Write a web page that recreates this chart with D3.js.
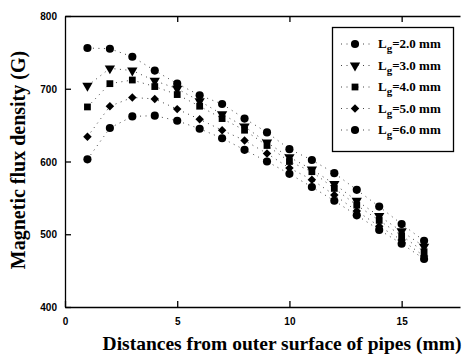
<!DOCTYPE html>
<html>
<head>
<meta charset="utf-8">
<script src="https://cdn.jsdelivr.net/npm/d3@7"></script>
<style>
  body { margin: 0; background: #fff; }
  svg { display: block; }
</style>
</head>
<body>
<svg id="chart" width="465" height="362"></svg>
<script>
// distances from outer surface (mm)
const distances = [1, 2, 3, 4, 5, 6, 7, 8, 9, 10, 11, 12, 13, 14, 15, 16];
// magnetic flux density (G) for each gap length
const lg20 = [756, 755, 744, 725, 707, 691, 679, 659, 640, 617, 602, 584, 561, 538, 514, 491];
const lg30 = [704, 728, 725, 711, 700, 683, 665, 648, 626, 606, 589, 569, 546, 525, 504, 483];
const lg40 = [675, 707, 712, 703, 692, 676, 659, 643, 622, 600, 586, 563, 540, 519, 498, 476];
const lg50 = [634, 676, 688, 686, 672, 658, 643, 629, 611, 591, 575, 554, 532, 511, 492, 470];
const lg60 = [603, 646, 662, 663, 656, 645, 632, 616, 600, 583, 565, 546, 526, 506, 487, 466];
const seriesLabels = ['2.0 mm', '3.0 mm', '4.0 mm', '5.0 mm', '6.0 mm'];
const seriesShapes = ['circle', 'triangle', 'square', 'diamond', 'circle'];
const xTicks = [0, 5, 10, 15];
const yTicks = [400, 500, 600, 700, 800];

const allSeries = [lg20, lg30, lg40, lg50, lg60];

const svg = d3.select('#chart');
const margin = { left: 65, top: 16, right: 5, bottom: 55 };
const W = 465, H = 362;

const x = d3.scaleLinear().domain([0, 17.6]).range([margin.left, W - margin.right]);
const y = d3.scaleLinear().domain([400, 800]).range([H - margin.bottom, margin.top]);

const symbolFor = (shape) => {
  if (shape === 'triangle') return d3.symbol().type(d3.symbolTriangle).size(46);
  if (shape === 'square') return d3.symbol().type(d3.symbolSquare).size(46);
  if (shape === 'diamond') return d3.symbol().type(d3.symbolSquare).size(36);
  return d3.symbol().type(d3.symbolCircle).size(52);
};
const rotFor = (shape) => {
  if (shape === 'triangle') return ' rotate(180)';
  if (shape === 'diamond') return ' rotate(45)';
  return '';
};

// axes
const tickFont = 'bold 10px "Liberation Sans", Arial, sans-serif';

const bottomAxis = svg.append('g')
  .attr('transform', 'translate(0,' + y(400) + ')')
  .call(d3.axisBottom(x).tickValues(xTicks).tickSize(-6).tickPadding(11).tickSizeOuter(0));
const topAxis = svg.append('g')
  .attr('transform', 'translate(0,' + y(800) + ')')
  .call(d3.axisTop(x).tickValues(xTicks.slice(1)).tickSize(-6).tickFormat('').tickSizeOuter(0));
const leftAxis = svg.append('g')
  .attr('transform', 'translate(' + x(0) + ',0)')
  .call(d3.axisLeft(y).tickValues(yTicks).tickSize(-6).tickPadding(8).tickSizeOuter(0));

[bottomAxis, topAxis, leftAxis].forEach(g => {
  g.select('.domain').attr('stroke', '#000').attr('stroke-width', 1.3);
  g.selectAll('.tick line').attr('stroke', '#000').attr('stroke-width', 1.3);
  g.selectAll('.tick text').style('font', tickFont).attr('fill', '#000');
});
leftAxis.selectAll('.tick text').attr('dy', '0.35em');

// lines
const line = d3.line()
  .x((d, i) => x(distances[i]))
  .y(d => y(d));

allSeries.forEach((vals, s) => {
  svg.append('path')
    .datum(vals)
    .attr('d', line)
    .attr('fill', 'none')
    .attr('stroke', '#444')
    .attr('stroke-width', 1)
    .attr('stroke-dasharray', '1 4.5');
});

allSeries.forEach((vals, s) => {
  const sym = symbolFor(seriesShapes[s]);
  svg.append('g').selectAll('path')
    .data(vals)
    .enter().append('path')
    .attr('d', sym)
    .attr('transform', (d, i) => 'translate(' + x(distances[i]) + ',' + y(d) + ')' + rotFor(seriesShapes[s]))
    .attr('fill', '#000');
});

// legend
const lg = svg.append('g');
lg.append('rect')
  .attr('x', 332.5).attr('y', 27.5)
  .attr('width', 121).attr('height', 124)
  .attr('fill', '#fff').attr('stroke', '#000').attr('stroke-width', 1.3);

seriesLabels.forEach((lab, s) => {
  const ly = 44 + s * 21.5;
  lg.append('line')
    .attr('x1', 341).attr('x2', 370).attr('y1', ly).attr('y2', ly)
    .attr('stroke', '#444').attr('stroke-dasharray', '1 4.5');
  lg.append('path')
    .attr('d', symbolFor(seriesShapes[s]))
    .attr('transform', 'translate(355,' + ly + ')' + rotFor(seriesShapes[s]))
    .attr('fill', '#000');
  const t = lg.append('text')
    .attr('x', 378).attr('y', ly + 4)
    .style('font', 'bold 13px "Liberation Serif", "Times New Roman", serif')
    .attr('fill', '#000');
  t.append('tspan').text('L');
  t.append('tspan').attr('dy', 4).style('font-size', '11px').text('g');
  t.append('tspan').attr('dy', -4).text('=' + lab);
});

// titles
svg.append('text')
  .attr('x', 282).attr('y', 350)
  .attr('text-anchor', 'middle')
  .style('font', 'bold 19.5px "Liberation Serif", "Times New Roman", serif')
  .text('Distances from outer surface of pipes (mm)');

svg.append('text')
  .attr('transform', 'translate(25,160) rotate(-90)')
  .attr('text-anchor', 'middle')
  .style('font', 'bold 20px "Liberation Serif", "Times New Roman", serif')
  .text('Magnetic flux density (G)');
</script>
</body>
</html>
